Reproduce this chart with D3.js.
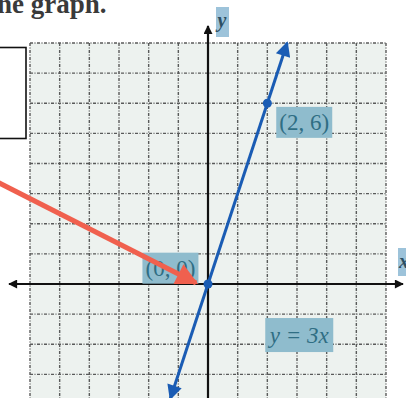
<!DOCTYPE html>
<html>
<head>
<meta charset="utf-8">
<script src="https://cdn.jsdelivr.net/npm/d3@7"></script>
<style>
  html, body { margin: 0; padding: 0; background: #ffffff; }
  svg { display: block; }
</style>
</head>
<body>
<svg id="chart" width="406" height="398"></svg>
<script>
// Grid extent and tick positions (graph units)
const xGrid = [-6, -5, -4, -3, -2, -1, 0, 1, 2, 3, 4, 5, 6];
const yGrid = [-4, -3, -2, -1, 0, 1, 2, 3, 4, 5, 6, 7, 8];

// The line y = 3x, drawn between these x values
const slope = 3;
const lineX = [-1.27, 2.67];

// Plotted points and their labels
const points = [[0, 0], [2, 6]];
const pointLabels = ["(0, 0)", "(2, 6)"];
const equationLabel = "y = 3x";

// Callout arrow pointing at the origin (graph units)
const calloutFrom = [-7.05, 3.36];
const calloutTo = [-0.4, 0.03];

const svg = d3.select("#chart");
const W = 406, H = 398;

const x = d3.scaleLinear().domain([-6, 6]).range([30, 386]);
const y = d3.scaleLinear().domain([-4, 8]).range([404.5, 43]);

const defs = svg.append("defs");
defs.append("clipPath").attr("id", "page")
  .append("rect").attr("x", 0).attr("y", 0).attr("width", W).attr("height", H);

const root = svg.append("g").attr("clip-path", "url(#page)");

// Heading text from the worksheet
root.append("text")
  .attr("x", -12).attr("y", 13)
  .attr("font-family", "'Liberation Serif', serif")
  .attr("font-weight", "bold")
  .attr("font-size", 27)
  .attr("fill", "#3a3a3a")
  .text("the graph.");

// Grid background
root.append("rect")
  .attr("x", x(-6)).attr("y", y(8))
  .attr("width", x(6) - x(-6)).attr("height", y(-4) - y(8))
  .attr("fill", "#edf2ef");

// Dashed grid lines
const grid = root.append("g")
  .attr("stroke", "#4a4a4a")
  .attr("stroke-width", 1.4)
  .attr("stroke-dasharray", "3,1.5,1,1.5")
  .attr("opacity", 0.9);

grid.selectAll("line.v").data(xGrid).join("line")
  .attr("class", "v")
  .attr("x1", d => x(d)).attr("x2", d => x(d))
  .attr("y1", y(8)).attr("y2", y(-4));

grid.selectAll("line.h").data(yGrid).join("line")
  .attr("class", "h")
  .attr("x1", x(-6)).attr("x2", x(6))
  .attr("y1", d => y(d)).attr("y2", d => y(d));

// Arrowheads
function arrowMarker(id, color, w, h) {
  defs.append("marker")
    .attr("id", id)
    .attr("viewBox", "0 0 10 10")
    .attr("refX", 9).attr("refY", 5)
    .attr("markerUnits", "userSpaceOnUse")
    .attr("markerWidth", w).attr("markerHeight", h)
    .attr("orient", "auto-start-reverse")
    .append("path")
    .attr("d", "M0,0 L10,5 L0,10 Z")
    .attr("fill", color);
}
arrowMarker("axisHead", "#111111", 10, 9);
arrowMarker("lineHead", "#1a5cb4", 18, 15);
arrowMarker("calloutHead", "#f0604e", 24, 22);

// x axis
root.append("line")
  .attr("x1", 9).attr("x2", 403)
  .attr("y1", y(0)).attr("y2", y(0))
  .attr("stroke", "#111").attr("stroke-width", 2.2)
  .attr("marker-start", "url(#axisHead)")
  .attr("marker-end", "url(#axisHead)");

// y axis
root.append("line")
  .attr("x1", x(0)).attr("x2", x(0))
  .attr("y1", H + 10).attr("y2", 26)
  .attr("stroke", "#111").attr("stroke-width", 2.2)
  .attr("marker-end", "url(#axisHead)");

// Axis labels on highlight boxes
const hl = "#9dc3da";
root.append("rect").attr("x", 216).attr("y", 7).attr("width", 13).attr("height", 30).attr("fill", hl);
root.append("text")
  .attr("x", 222).attr("y", 27)
  .attr("text-anchor", "middle")
  .attr("font-family", "'Liberation Serif', serif")
  .attr("font-style", "italic").attr("font-weight", "bold")
  .attr("font-size", 20).attr("fill", "#2d4f63")
  .text("y");
root.append("rect").attr("x", 398).attr("y", 248).attr("width", 12).attr("height", 28).attr("fill", hl);
root.append("text")
  .attr("x", 404).attr("y", 268)
  .attr("text-anchor", "middle")
  .attr("font-family", "'Liberation Serif', serif")
  .attr("font-style", "italic").attr("font-weight", "bold")
  .attr("font-size", 20).attr("fill", "#2d4f63")
  .text("x");

// Label boxes for the points and the equation
const labelBox = "#8fbccd";
const labelInk = "#2f6e84";
const labelData = [
  { text: pointLabels[1], px: points[1][0] + 0.3, py: points[1][1] - 0.12, w: 56, h: 31, italic: false },
  { text: pointLabels[0], px: points[0][0] - 2.21, py: points[0][1] + 1.04, w: 56, h: 31, italic: false },
  { text: equationLabel, px: 1.93, py: -1.13, w: 68, h: 34, italic: true }
];
const lbl = root.selectAll("g.lbl").data(labelData).join("g")
  .attr("class", "lbl")
  .attr("transform", d => `translate(${x(d.px)},${y(d.py)})`);
lbl.append("rect")
  .attr("width", d => d.w).attr("height", d => d.h)
  .attr("fill", labelBox);
lbl.append("text")
  .attr("x", d => d.w / 2).attr("y", d => d.h / 2 + 8)
  .attr("text-anchor", "middle")
  .attr("font-family", "'Liberation Serif', serif")
  .attr("font-style", d => d.italic ? "italic" : "normal")
  .attr("font-size", 23)
  .attr("fill", labelInk)
  .text(d => d.text);

// The line y = 3x with arrowheads at both ends
root.append("line")
  .attr("x1", x(lineX[0])).attr("y1", y(slope * lineX[0]))
  .attr("x2", x(lineX[1])).attr("y2", y(slope * lineX[1]))
  .attr("stroke", "#1a5cb4").attr("stroke-width", 3)
  .attr("marker-start", "url(#lineHead)")
  .attr("marker-end", "url(#lineHead)");

// Plotted points
root.selectAll("circle.pt").data(points).join("circle")
  .attr("class", "pt")
  .attr("cx", d => x(d[0])).attr("cy", d => y(d[1]))
  .attr("r", 4.5)
  .attr("fill", "#1a5cb4");

// Callout arrow
root.append("line")
  .attr("x1", x(calloutFrom[0])).attr("y1", y(calloutFrom[1]))
  .attr("x2", x(calloutTo[0])).attr("y2", y(calloutTo[1]))
  .attr("stroke", "#f0604e").attr("stroke-width", 5)
  .attr("marker-end", "url(#calloutHead)");

// Cropped text box at the left edge
root.append("rect")
  .attr("x", -5).attr("y", 47.5)
  .attr("width", 31).attr("height", 91)
  .attr("fill", "#ffffff")
  .attr("stroke", "#111").attr("stroke-width", 1.6);
</script>
</body>
</html>
